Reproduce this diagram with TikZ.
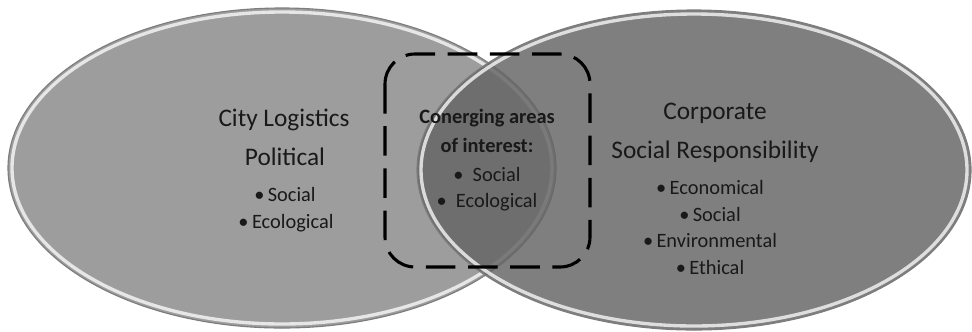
\documentclass[tikz,border=0pt]{standalone}
\usepackage{fontspec}
\setmainfont{Carlito}
\definecolor{leftgray}{RGB}{157,157,157}
\definecolor{rightgray}{RGB}{102,102,102}
\definecolor{rimgray}{RGB}{125,125,125}
\definecolor{inkgray}{RGB}{25,25,25}
\begin{document}
\begin{tikzpicture}[x=0.025cm, y=-0.025cm,
		bigtext/.style={text=inkgray, anchor=base, inner sep=0pt, font=\fontsize{18}{22}\selectfont},
		smalltext/.style={text=inkgray, anchor=base, inner sep=0pt, font=\fontsize{14.5}{17}\selectfont},
		boldtext/.style={smalltext, font=\fontsize{14.5}{17}\selectfont\bfseries},
		rim/.style={white, line width=2.4pt, opacity=0.75},
		edge/.style={rimgray, line width=0.8pt},
		focusbox/.style={black, line width=2.2pt, dash pattern=on 21pt off 9pt, rounded corners=0.75cm}]
			\useasboundingbox (0,0) rectangle (972,331);

			% Draw left ellipse (city logistics)
			\fill[leftgray] (282,168) ellipse [x radius=274, y radius=160];
			\draw[rim] (282,168) ellipse [x radius=270, y radius=156];
			\draw[edge] (282,168) ellipse [x radius=274, y radius=160];

			% Draw right ellipse (CSR), see-through over the left one
			\fill[rightgray, fill opacity=0.84] (694,170) ellipse [x radius=277, y radius=160];
			\draw[rim] (694,170) ellipse [x radius=273, y radius=156];
			\draw[edge] (694,170) ellipse [x radius=277, y radius=160];

			% Mark the overlap
			\draw[focusbox] (385,54) rectangle (590,267);

			% Left labels
			\node[bigtext] (city) at (284,126) {City Logistics};
			\node[bigtext] (political) at (285,165) {Political};
			\node[smalltext] (lsocial) at (285,201) {•\,Social};
			\node[smalltext] (lecological) at (286,228) {•\,Ecological};

			% Middle labels
			\node[boldtext] (conv) at (487,123) {Conerging areas};
			\node[boldtext] (interest) at (487,152) {of interest:};
			\node[smalltext] (msocial) at (487,181) {•\hspace{0.45em}Social};
			\node[smalltext] (mecological) at (487,207) {•\hspace{0.45em}Ecological};

			% Right labels
			\node[bigtext] (corporate) at (715,119) {Corporate};
			\node[bigtext] (csr) at (715,158) {Social Responsibility};
			\node[smalltext] (economical) at (710,194) {•\,Economical};
			\node[smalltext] (rsocial) at (710,221) {•\,Social};
			\node[smalltext] (environmental) at (710,247) {•\,Environmental};
			\node[smalltext] (ethical) at (710,274) {•\,Ethical};

		\end{tikzpicture}
\end{document}
